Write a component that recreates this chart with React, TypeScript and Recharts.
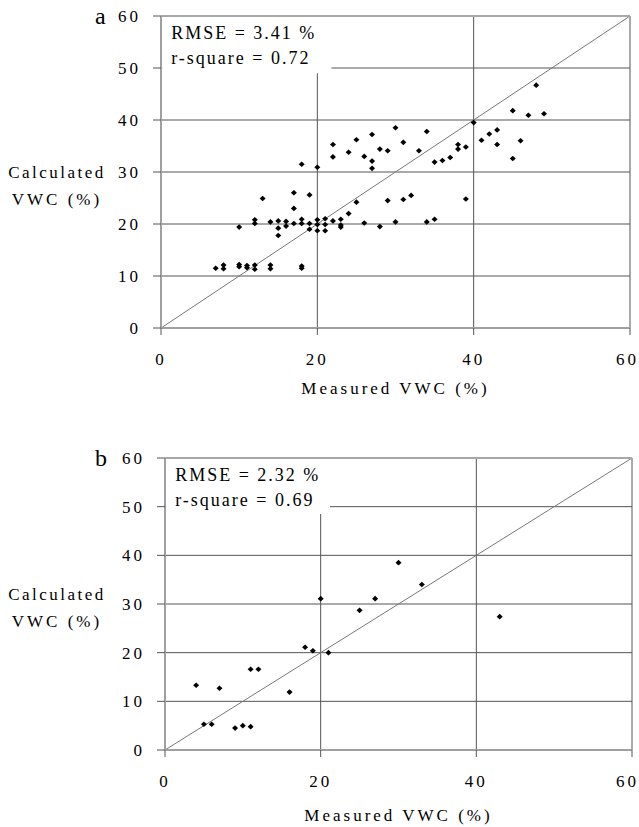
import {
  ScatterChart,
  Scatter,
  XAxis,
  YAxis,
  CartesianGrid,
  ReferenceLine,
  ReferenceArea,
} from "recharts";

// panel a: measured vs calculated VWC (%)
const measuredA = [
  7, 8, 8, 10, 10, 11, 11, 12, 12, 14, 14, 18, 18,
  10, 12, 12, 13, 14, 15, 15, 15, 16, 16, 17, 17, 17, 18, 18, 18, 19, 19, 19, 20, 20, 20, 20,
  21, 21, 21, 22, 22, 22, 23, 23, 23, 24, 24, 25, 25, 26, 26, 27, 27, 27, 28, 28, 29, 29,
  30, 30, 31, 31, 32, 33, 34, 34, 35, 35, 36, 37, 38, 38, 39, 39, 40, 41, 42, 43, 43,
  45, 45, 46, 47, 48, 49,
];
const calculatedA = [
  11.5, 12.1, 11.4, 12.2, 11.8, 12.0, 11.6, 12.1, 11.3, 12.1, 11.4, 11.9, 11.5,
  19.4, 20.8, 20.1, 24.9, 20.4, 20.6, 19.2, 17.8, 20.5, 19.6, 20.1, 23.0, 26.0, 20.9, 20.1, 31.5, 20.1, 19.0, 25.6, 20.8, 19.9, 18.7, 30.9,
  21.0, 19.9, 18.7, 20.6, 35.3, 32.9, 20.9, 19.8, 19.4, 22.0, 33.8, 24.2, 36.2, 20.2, 33.0, 37.2, 32.1, 30.7, 19.5, 34.4, 24.5, 34.1,
  38.5, 20.4, 35.7, 24.7, 25.5, 34.1, 37.8, 20.4, 31.9, 20.9, 32.2, 32.8, 35.3, 34.4, 34.8, 24.8, 39.5, 36.1, 37.3, 38.1, 35.3,
  41.8, 32.6, 36.0, 40.9, 46.7, 41.2,
];

// panel b
const measuredB = [4, 5, 6, 7, 9, 10, 11, 11, 12, 16, 18, 19, 20, 21, 25, 27, 30, 33, 43];
const calculatedB = [13.3, 5.3, 5.3, 12.7, 4.5, 5.0, 4.8, 16.6, 16.6, 11.9, 21.1, 20.4, 31.1, 20.0, 28.7, 31.1, 38.5, 34.0, 27.4];

const xTicks = [0, 20, 40, 60];
const yTicks = [0, 10, 20, 30, 40, 50, 60];
const statsA = ["RMSE = 3.41 %", "r-square = 0.72"];
const statsB = ["RMSE = 2.32 %", "r-square = 0.69"];

const FONT = '"Liberation Serif", "Times New Roman", "DejaVu Serif", serif';

function zip(xs: number[], ys: number[]) {
  return xs.map((x, i) => ({ x, y: ys[i] }));
}

function Diamond(props: any) {
  const { cx, cy } = props;
  return (
    <polygon
      points={`${cx},${cy - 2.8} ${cx + 3},${cy} ${cx},${cy + 2.8} ${cx - 3},${cy}`}
      fill="#000"
    />
  );
}

interface PanelProps {
  letter: string;
  stats: string[];
  data: { x: number; y: number }[];
  height: number;
  marginTop: number;
  marginRight: number;
  yAxisWidth: number;
  xAxisHeight: number;
  boxX2: number;
  boxY1: number;
  yLabelY: number;
}

function Panel({
  letter,
  stats,
  data,
  height,
  marginTop,
  marginRight,
  yAxisWidth,
  xAxisHeight,
  boxX2,
  boxY1,
  yLabelY,
}: PanelProps) {
  const tickStyle = { fontSize: 17, fill: "#000", fontFamily: FONT, letterSpacing: 3 };

  return (
    <ScatterChart
      width={639}
      height={height}
      margin={{ top: marginTop, right: marginRight, left: 0, bottom: 0 }}
      style={{ fontFamily: FONT }}
    >
      <CartesianGrid stroke="#555" strokeWidth={1} />
      <XAxis
        type="number"
        dataKey="x"
        domain={[0, 60]}
        ticks={xTicks}
        height={xAxisHeight}
        axisLine={{ stroke: "#a0a0a0", strokeWidth: 2 }}
        tickLine={{ stroke: "#555" }}
        tickSize={7}
        tickMargin={18}
        tick={tickStyle}
        label={{
          value: "Measured VWC (%)",
          position: "insideBottom",
          offset: 6,
          style: { fontSize: 17, fill: "#000", fontFamily: FONT, letterSpacing: 3 },
        }}
      />
      <YAxis
        type="number"
        dataKey="y"
        domain={[0, 60]}
        ticks={yTicks}
        width={yAxisWidth}
        axisLine={{ stroke: "#a0a0a0", strokeWidth: 2 }}
        tickLine={{ stroke: "#555" }}
        tickSize={8}
        tickMargin={12}
        tick={tickStyle}
        label={{
          content: (p: any) => {
            const vb = p.viewBox || { x: 0, y: 0 };
            return (
              <g fontFamily={FONT} fill="#000">
                <text x={95} y={vb.y + 8} fontSize={24}>
                  {letter}
                </text>
                <text x={57} y={yLabelY} fontSize={17} letterSpacing={2.5} textAnchor="middle">
                  Calculated
                </text>
                <text x={57} y={yLabelY + 27} fontSize={17} letterSpacing={3} textAnchor="middle">
                  VWC (%)
                </text>
              </g>
            );
          },
        }}
      />
      <ReferenceLine
        segment={[
          { x: 0, y: 0 },
          { x: 60, y: 60 },
        ]}
        stroke="#777"
        strokeWidth={1}
      />
      <ReferenceLine y={60} stroke="#a8a8a8" strokeWidth={2} />
      <ReferenceArea
        x1={0.15}
        x2={boxX2}
        y1={boxY1}
        y2={59.85}
        fill="#fff"
        fillOpacity={1}
        stroke="none"
        label={{
          content: (p: any) => {
            const vb = p.viewBox || { x: 0, y: 0 };
            return (
              <g fontFamily={FONT} fill="#000" fontSize={18} letterSpacing={2}>
                <text x={vb.x + 9} y={vb.y + 22}>
                  {stats[0]}
                </text>
                <text x={vb.x + 9} y={vb.y + 47}>
                  {stats[1]}
                </text>
              </g>
            );
          },
        }}
      />
      <Scatter data={data} shape={Diamond} isAnimationActive={false} />
    </ScatterChart>
  );
}

export default function App() {
  return (
    <div style={{ position: "absolute", left: 0, top: 0, width: 639, height: 827, background: "#fff" }}>
      <Panel
        letter="a"
        stats={statsA}
        data={zip(measuredA, calculatedA)}
        height={400}
        marginTop={16}
        marginRight={9}
        yAxisWidth={161}
        xAxisHeight={72}
        boxX2={21.8}
        boxY1={49}
        yLabelY={178}
      />
      <Panel
        letter="b"
        stats={statsB}
        data={zip(measuredB, calculatedB)}
        height={427}
        marginTop={58}
        marginRight={7}
        yAxisWidth={165}
        xAxisHeight={77}
        boxX2={21.2}
        boxY1={48.5}
        yLabelY={600 - 400}
      />
    </div>
  );
}
